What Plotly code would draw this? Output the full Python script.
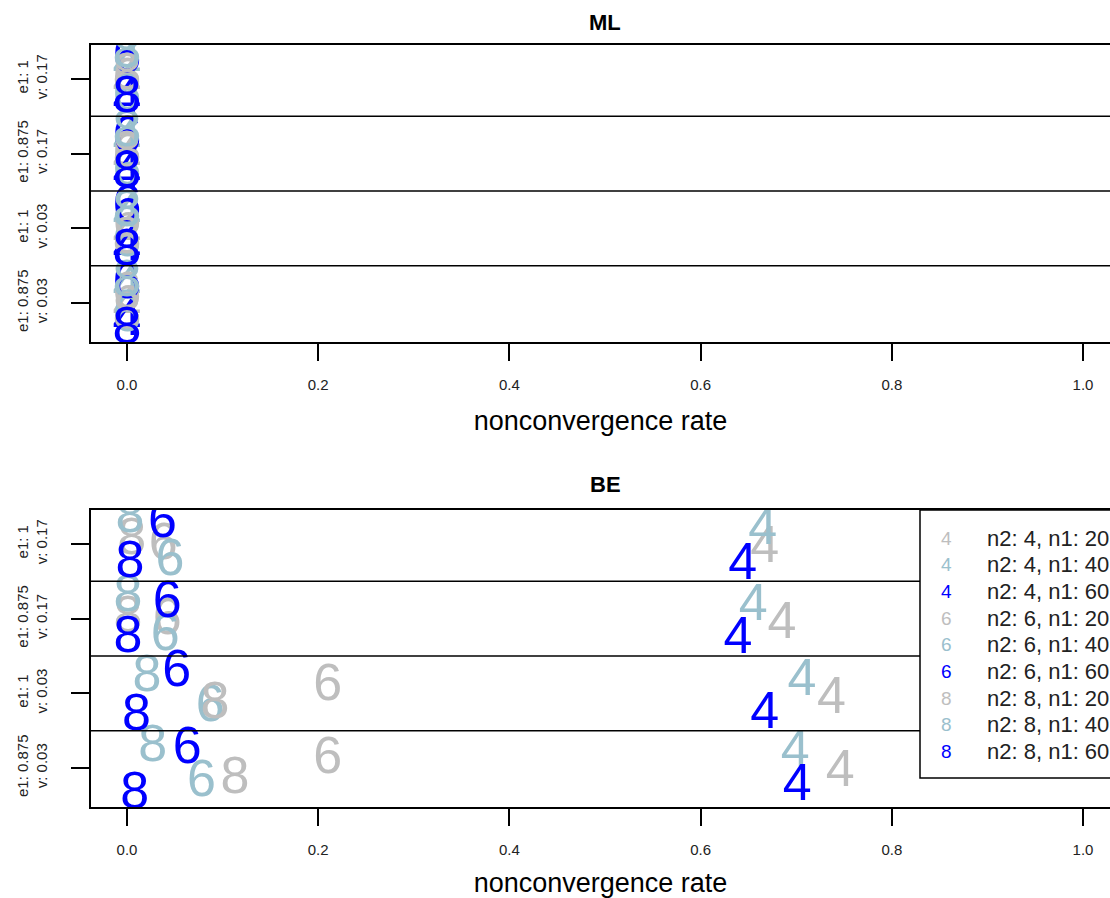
import plotly.graph_objects as go

# ---------------- data ----------------
groups = ["e1: 0.875<br>v: 0.03", "e1: 1<br>v: 0.03",
          "e1: 0.875<br>v: 0.17", "e1: 1<br>v: 0.17"]   # bottom -> top
group_pos = [1, 2, 3, 4]

series_labels = ["n2: 4, n1: 20", "n2: 4, n1: 40", "n2: 4, n1: 60",
                 "n2: 6, n1: 20", "n2: 6, n1: 40", "n2: 6, n1: 60",
                 "n2: 8, n1: 20", "n2: 8, n1: 40", "n2: 8, n1: 60"]
series_symbols = ["4", "4", "4", "6", "6", "6", "8", "8", "8"]
series_n1 = [20, 40, 60, 20, 40, 60, 20, 40, 60]

# nonconvergence rates, one value per group (bottom -> top)
be_rate = [
    [0.746, 0.737, 0.685, 0.667],
    [0.699, 0.706, 0.655, 0.665],
    [0.701, 0.667, 0.639, 0.644],
    [0.210, 0.210, 0.042, 0.038],
    [0.078, 0.087, 0.040, 0.045],
    [0.063, 0.052, 0.042, 0.037],
    [0.113, 0.092, 0.001, 0.005],
    [0.027, 0.021, 0.001, 0.003],
    [0.008, 0.010, 0.001, 0.003],
]
ml_rate = [
    [0.0, 0.0, 0.0, 0.0],
    [0.0, 0.0, 0.0, 0.0],
    [0.0, 0.0, 0.0, 0.0],
    [0.0, 0.0, 0.0, 0.0],
    [0.0, 0.0, 0.0, 0.0],
    [0.0, 0.0, 0.0, 0.0],
    [0.0, 0.0, 0.0, 0.0],
    [0.0, 0.0, 0.0, 0.0],
    [0.0, 0.0, 0.0, 0.0],
]
# vertical jitter within each group (group units)
jitter = [
    [-0.07, -0.09, -0.09, -0.07],
    [0.20, 0.15, 0.15, 0.17],
    [-0.25, -0.29, -0.29, -0.29],
    [0.11, 0.08, -0.03, -0.03],
    [-0.20, -0.20, -0.25, -0.24],
    [0.24, 0.27, 0.20, 0.27],
    [-0.16, -0.16, 0.00, 0.04],
    [0.27, 0.21, 0.28, 0.33],
    [-0.36, -0.32, -0.27, -0.27],
]
x_ticks = [0.0, 0.2, 0.4, 0.6, 0.8, 1.0]
x_ticktext = ["0.0", "0.2", "0.4", "0.6", "0.8", "1.0"]

# ---------------- styles ----------------
n1_colors = {20: "#BEBEBE", 40: "#9AC0CD", 60: "#0000FF"}
FONT = "Liberation Sans, Arial, sans-serif"
W, H = 1110, 898

fig = go.Figure()

panels = [("ML", ml_rate, "x", "y"), ("BE", be_rate, "x2", "y2")]
for title, rates, xa, ya in panels:
    for i in range(len(series_labels)):
        ys = [g + j for g, j in zip(group_pos, jitter[i])]
        fig.add_trace(go.Scatter(
            x=rates[i], y=ys, mode="text", text=[series_symbols[i]] * len(ys),
            textposition="middle center",
            textfont=dict(family=FONT, size=52, color=n1_colors[series_n1[i]]),
            xaxis=xa, yaxis=ya, showlegend=False, cliponaxis=True,
            hoverinfo="skip"))

xdom = [91 / W, 1.0]
ydom_ml = [1 - 342 / H, 1 - 45 / H]
ydom_be = [1 - 807 / H, 1 - 510 / H]
xr = [(91 - 127) / 956, (W - 127) / 956]
yr = [0.478, 4.455]

xcommon = dict(range=xr, tickvals=x_ticks, ticktext=x_ticktext, showline=True,
               mirror=True, linecolor="black", linewidth=1.5, ticks="outside",
               ticklen=17, tickwidth=1.6, tickcolor="black", showgrid=False,
               zeroline=False, tickfont=dict(family=FONT, size=15, color="#222222"),
               ticklabelstandoff=11,
               title=dict(text="nonconvergence rate",
                          font=dict(family=FONT, size=27, color="black"),
                          standoff=19))
ycommon = dict(range=yr, tickvals=group_pos, ticktext=groups, tickangle=-90,
               showline=True, mirror=False, linecolor="black", linewidth=1.5,
               ticks="outside", ticklen=18, tickwidth=1.6, tickcolor="black",
               showgrid=False, zeroline=False,
               tickfont=dict(family=FONT, size=15, color="#222222"),
               ticklabelstandoff=18)

fig.update_layout(
    width=W, height=H, margin=dict(l=0, r=0, t=0, b=0),
    paper_bgcolor="white", plot_bgcolor="white", showlegend=False,
    xaxis=dict(domain=xdom, anchor="y", **xcommon),
    yaxis=dict(domain=ydom_ml, anchor="x", **ycommon),
    xaxis2=dict(domain=xdom, anchor="y2", **xcommon),
    yaxis2=dict(domain=ydom_be, anchor="x2", **ycommon),
)

shapes = []
for ya in ["y", "y2"]:
    for b in [1.5, 2.5, 3.5]:
        shapes.append(dict(type="line", xref=("x domain" if ya == "y" else "x2 domain"),
                           yref=ya, x0=0, x1=1, y0=b, y1=b,
                           line=dict(color="black", width=1.5)))
# legend box (BE panel)
shapes.append(dict(type="rect", xref="paper", yref="paper",
                   x0=920 / W, x1=1.05, y0=1 - 778 / H, y1=1 - 510 / H,
                   line=dict(color="black", width=1.5), fillcolor="white"))
fig.update_layout(shapes=shapes)

ann = []
for txt, ypx in [("ML", 22), ("BE", 484)]:
    ann.append(dict(text="<b>%s</b>" % txt, x=605 / W, y=1 - ypx / H, xref="paper",
                    yref="paper", showarrow=False, xanchor="center", yanchor="middle",
                    font=dict(family=FONT, size=22, color="black")))
for i, lab in enumerate(series_labels):
    ypx = 538 + i * 26.7
    ann.append(dict(text=series_symbols[i], x=946 / W, y=1 - ypx / H, xref="paper",
                    yref="paper", showarrow=False, xanchor="center", yanchor="middle",
                    font=dict(family=FONT, size=19, color=n1_colors[series_n1[i]])))
    ann.append(dict(text=lab, x=985 / W, y=1 - ypx / H, xref="paper",
                    yref="paper", showarrow=False, xanchor="left", yanchor="middle",
                    font=dict(family=FONT, size=22, color="#222222")))
fig.update_layout(annotations=ann)

fig.write_html("out.html")
